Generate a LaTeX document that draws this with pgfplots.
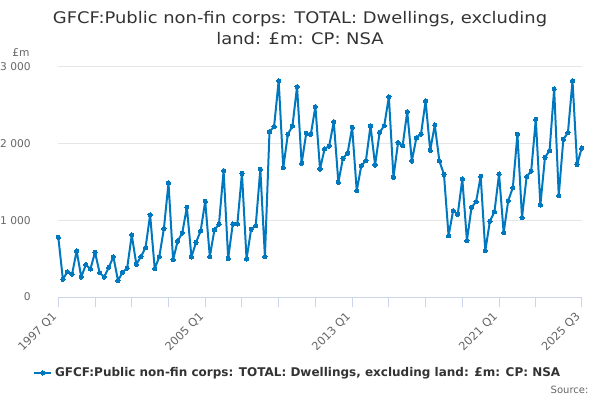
\documentclass[border=0pt]{standalone}
\usepackage{pgfplots}
\pgfplotsset{compat=1.18}
\usepackage{fontspec}
\setmainfont{DejaVu Sans}
\newfontfamily\titlefont[FakeStretch=1.12]{DejaVu Sans}
\definecolor{line}{RGB}{0,120,192}
\definecolor{axln}{HTML}{CCD6EB}
\definecolor{grd}{HTML}{E6E6E6}
\definecolor{ttl}{HTML}{333333}
\definecolor{lbl}{HTML}{666666}
\begin{document}
\begin{tikzpicture}
\path[use as bounding box] (0,0) rectangle (450pt,300pt);
\node[anchor=base, text=ttl, font=\titlefont\fontsize{12pt}{14pt}\selectfont, inner sep=0pt] at (225pt,282.5pt) {GFCF:Public non-fin corps: TOTAL: Dwellings, excluding};
\node[anchor=base, text=ttl, font=\titlefont\fontsize{12pt}{14pt}\selectfont, inner sep=0pt] at (225pt,266.25pt) {land: £m: CP: NSA};
\node[anchor=base west, text=lbl, font=\fontsize{8pt}{10pt}\selectfont, inner sep=0pt] at (9pt,257.25pt) {£m};
\node[anchor=base east, text=lbl, font=\fontsize{7.5pt}{9pt}\selectfont, inner sep=0pt] at (441.5pt,5pt) {Source:};
\begin{axis}[
  at={(43.725pt,77.25pt)}, anchor=south west,
  scale only axis, width=392.55pt, height=172.5pt,
  xmin=0, xmax=114, ymin=0, ymax=3000,
  clip=false,
  axis y line*=left, y axis line style={draw=none},
  axis x line*=bottom, x axis line style={axln, line width=0.75pt},
  ytick={0,1000,2000,3000},
  yticklabels={0,1 000,2 000,3 000},
  ymajorgrids, grid style={grd, line width=0.75pt},
  major y tick style={draw=none},
  xtick={0,8,...,104,114},
  xticklabels={1997 Q1,,,,2005 Q1,,,,2013 Q1,,,,2021 Q1,,2025 Q3},
  major x tick style={axln, line width=0.75pt},
  tick align=outside, major tick length=7.5pt,
  yticklabel style={text=lbl, font=\fontsize{8pt}{10pt}\selectfont, inner sep=0pt, anchor=east, xshift=-13pt},
  xticklabel style={text=lbl, font=\fontsize{8.5pt}{10pt}\selectfont, inner sep=0pt, xshift=-2.5pt, yshift=-5.5pt, rotate=45, anchor=east},
  legend style={draw=none, fill=none, at={(-0.0483,-0.330)}, anchor=west, inner sep=0pt,
    font=\fontsize{9pt}{11pt}\selectfont\bfseries, text=ttl},
  legend cell align=left,
  legend image code/.code={\draw[mark repeat=2, mark phase=2, #1] plot coordinates {(0pt,0pt)(6.4pt,0pt)(12.8pt,0pt)};},
]
\addplot[line, line width=1.5pt, line join=round, mark=*, mark size=1.6pt, mark options={solid, line width=0pt}] coordinates {
(0,780)(1,231)(2,330)(3,300)(4,600)(5,261)(6,422)(7,365)(8,583)(9,317)
(10,261)(11,387)(12,526)(13,213)(14,322)(15,378)(16,809)(17,426)(18,526)(19,643)
(20,1070)(21,370)(22,525)(23,893)(24,1487)(25,485)(26,730)(27,835)(28,1170)(29,522)
(30,713)(31,861)(32,1248)(33,526)(34,874)(35,952)(36,1648)(37,504)(38,952)(39,952)
(40,1613)(41,496)(42,883)(43,930)(44,1667)(45,526)(46,2157)(47,2222)(48,2822)(49,1687)
(50,2122)(51,2230)(52,2743)(53,1743)(54,2135)(55,2122)(56,2483)(57,1670)(58,1930)(59,1970)
(60,2287)(61,1496)(62,1809)(63,1874)(64,2213)(65,1387)(66,1713)(67,1778)(68,2232)(69,1722)
(70,2150)(71,2235)(72,2613)(73,1561)(74,2013)(75,1974)(76,2417)(77,1774)(78,2078)(79,2126)
(80,2556)(81,1913)(82,2243)(83,1774)(84,1600)(85,800)(86,1126)(87,1078)(88,1539)(89,735)
(90,1168)(91,1243)(92,1574)(93,602)(94,987)(95,1113)(96,1604)(97,839)(98,1257)(99,1426)
(100,2122)(101,1035)(102,1570)(103,1643)(104,2317)(105,1200)(106,1822)(107,1909)(108,2713)(109,1322)
(110,2057)(111,2143)(112,2822)(113,1730)(114,1943)
};
\addlegendentry{GFCF:Public non-fin corps: TOTAL: Dwellings, excluding land: £m: CP: NSA}
\end{axis}
\end{tikzpicture}
\end{document}
